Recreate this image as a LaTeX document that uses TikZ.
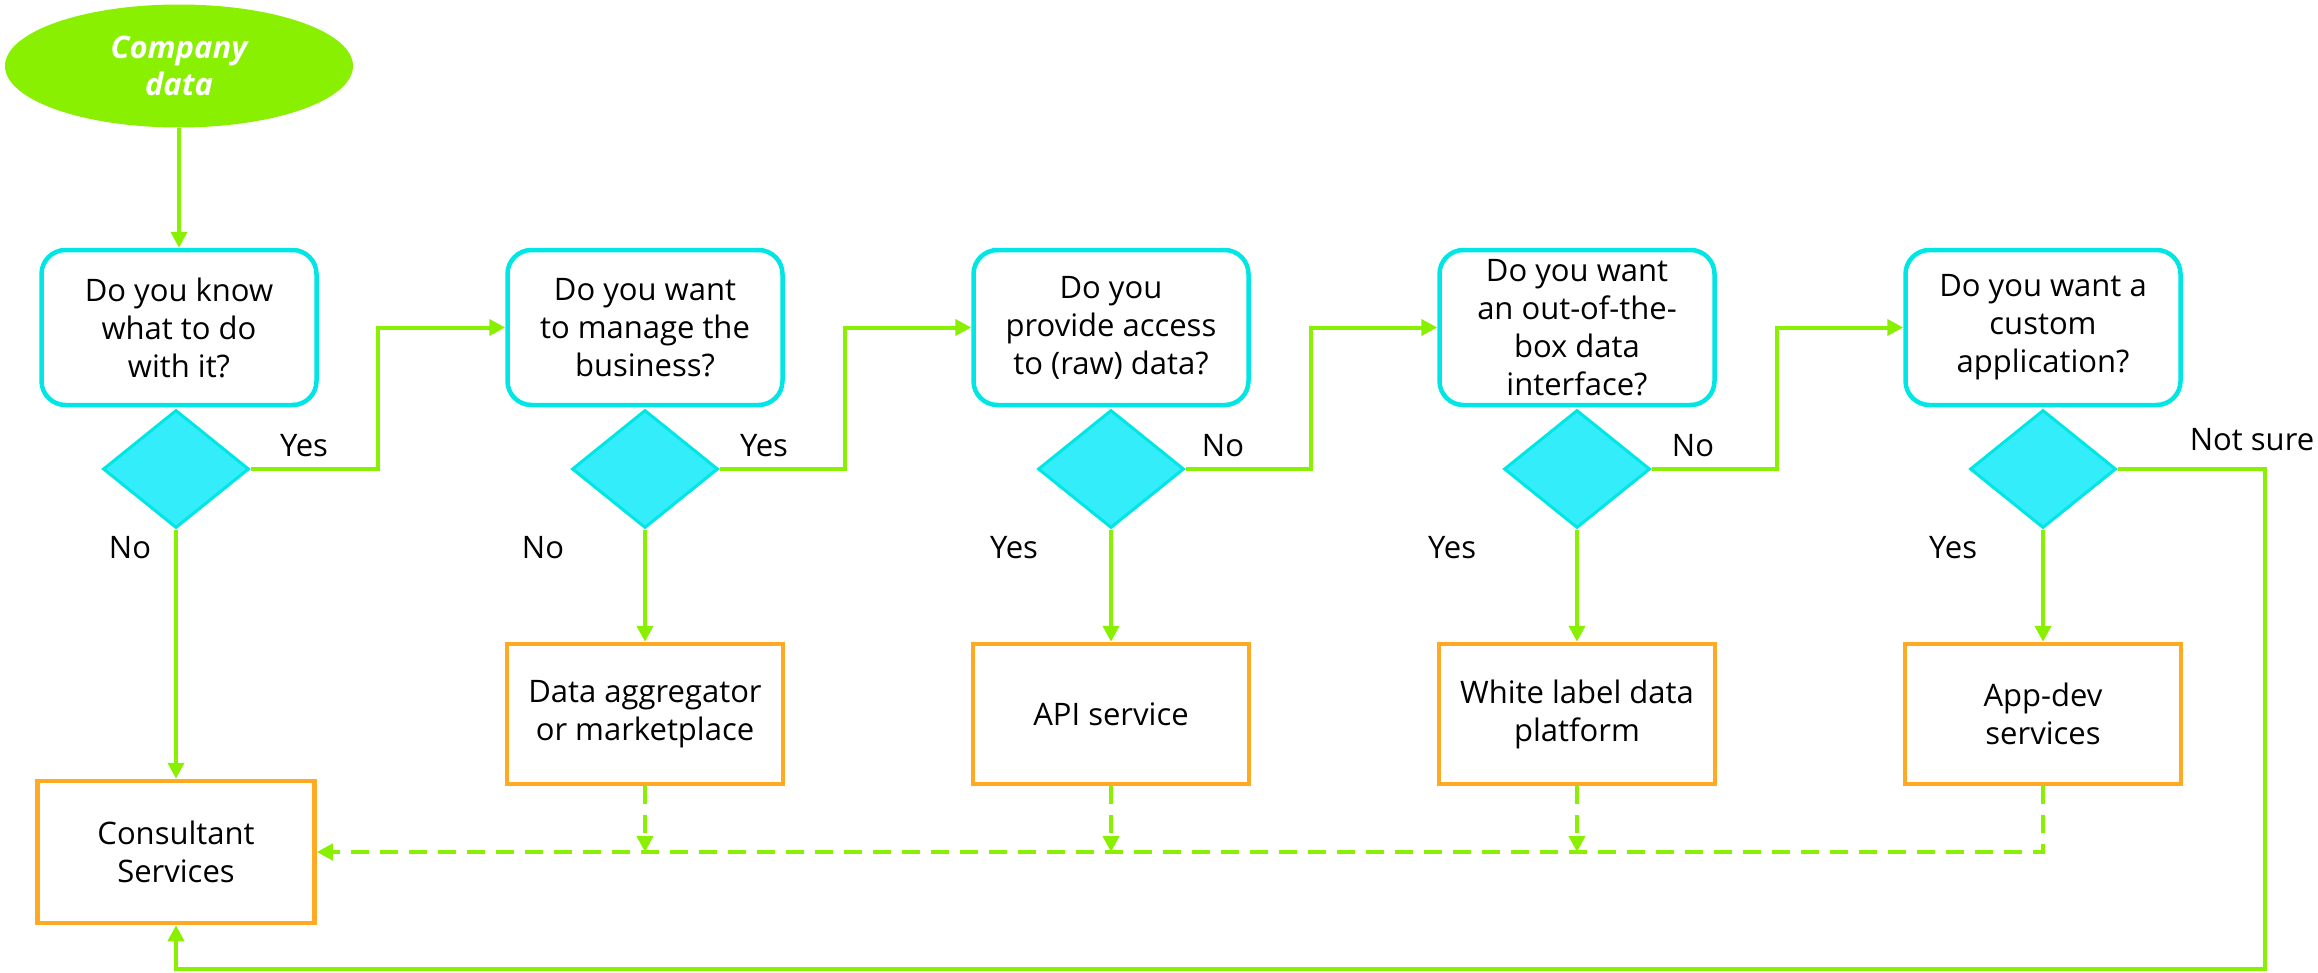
\documentclass[tikz,border=0pt]{standalone}
\usepackage{fontspec}
\setmainfont{Open Sans}
\usetikzlibrary{shapes.geometric,arrows.meta,calc}
\definecolor{lime}{RGB}{136,240,0}
\definecolor{cyanB}{RGB}{0,230,228}
\definecolor{cyanF}{RGB}{51,238,250}
\definecolor{orangeB}{RGB}{255,170,34}
\begin{document}
\begin{tikzpicture}[x=1pt,y=1pt,
 font=\fontsize{31}{38}\selectfont,
 qbox/.style={draw=cyanB, line width=4.5pt, rounded corners=24pt, fill=white, minimum width=275pt, minimum height=155pt, align=center, inner sep=0pt},
 dia/.style={diamond, draw=cyanB, fill=cyanF, line width=3pt, minimum width=146pt, minimum height=118pt, inner sep=0pt},
 obox/.style={draw=orangeB, line width=4.5pt, minimum width=276pt, minimum height=140pt, align=center, inner sep=0pt},
 startell/.style={ellipse, fill=lime, minimum width=348pt, minimum height=123pt, align=center, inner sep=0pt, text=white, font=\fontsize{31}{37}\selectfont\bfseries\itshape},
 flow/.style={draw=lime, line width=4pt, -{Triangle[length=16pt,width=16pt]}},
 plain/.style={draw=lime, line width=4pt},
 dflow/.style={flow, dash pattern=on 18pt off 11pt},
 lbl/.style={inner sep=0pt, anchor=center}
]
\useasboundingbox (0,0) rectangle (2318,-972);

\node[startell] (start) at (179,-66) {Company\\data};

\node[qbox] (q1) at (179,-327.5) {Do you know\\what to do\\with it?};
\node[qbox] (q2) at (645,-327.5) {Do you want\\to manage the\\business?};
\node[qbox] (q3) at (1111,-327.5) {Do you\\provide access\\to (raw) data?};
\node[qbox] (q4) at (1577,-327.5) {Do you want\\an out-of-the-\\box data\\interface?};
\node[qbox] (q5) at (2043,-327.5) {Do you want a\\custom\\application?};

\node[dia] (d1) at (176,-469) {};
\node[dia] (d2) at (645,-469) {};
\node[dia] (d3) at (1111,-469) {};
\node[dia] (d4) at (1577,-469) {};
\node[dia] (d5) at (2043,-469) {};

\node[obox] (o2) at (645,-714) {Data aggregator\\or marketplace};
\node[obox] (o3) at (1111,-714) {API service};
\node[obox] (o4) at (1577,-714) {White label data\\platform};
\node[obox] (o5) at (2043,-714) {App-dev\\services};
\node[obox, minimum width=277pt, minimum height=142pt] (cons) at (176,-852) {Consultant\\Services};

\draw[flow] (start) -- (start |- q1.north);

\draw[flow] (d1.east) -| ($(d1.east)!0.5!(q2.west)$) |- (q2.west);
\draw[flow] (d2.east) -| ($(d2.east)!0.5!(q3.west)$) |- (q3.west);
\draw[flow] (d3.east) -| ($(d3.east)!0.5!(q4.west)$) |- (q4.west);
\draw[flow] (d4.east) -| ($(d4.east)!0.5!(q5.west)$) |- (q5.west);

\draw[flow] (d1.south) -- (cons.north);
\draw[flow] (d2.south) -- (o2.north);
\draw[flow] (d3.south) -- (o3.north);
\draw[flow] (d4.south) -- (o4.north);
\draw[flow] (d5.south) -- (o5.north);

\coordinate (ns1) at (2265,-469);
\coordinate (ns2) at (2265,-969);
\draw[flow] (d5.east) -- (ns1) -- (ns2) -| (cons.south);

\draw[dflow] (o5.south) |- (cons.east);
\draw[dflow] (o2.south) -- (o2.south |- cons.east);
\draw[dflow] (o3.south) -- (o3.south |- cons.east);
\draw[dflow] (o4.south) -- (o4.south |- cons.east);

\node[lbl] (y1) at (304,-446) {Yes};
\node[lbl] (n1) at (130,-548) {No};
\node[lbl] (y2) at (764,-446) {Yes};
\node[lbl] (n2) at (543,-548) {No};
\node[lbl] (n3) at (1223,-446) {No};
\node[lbl] (y3) at (1014,-548) {Yes};
\node[lbl] (n4) at (1693,-446) {No};
\node[lbl] (y4) at (1452,-548) {Yes};
\node[lbl] (ns) at (2252,-440) {Not sure};
\node[lbl] (y5) at (1953,-548) {Yes};
\end{tikzpicture}
\end{document}
